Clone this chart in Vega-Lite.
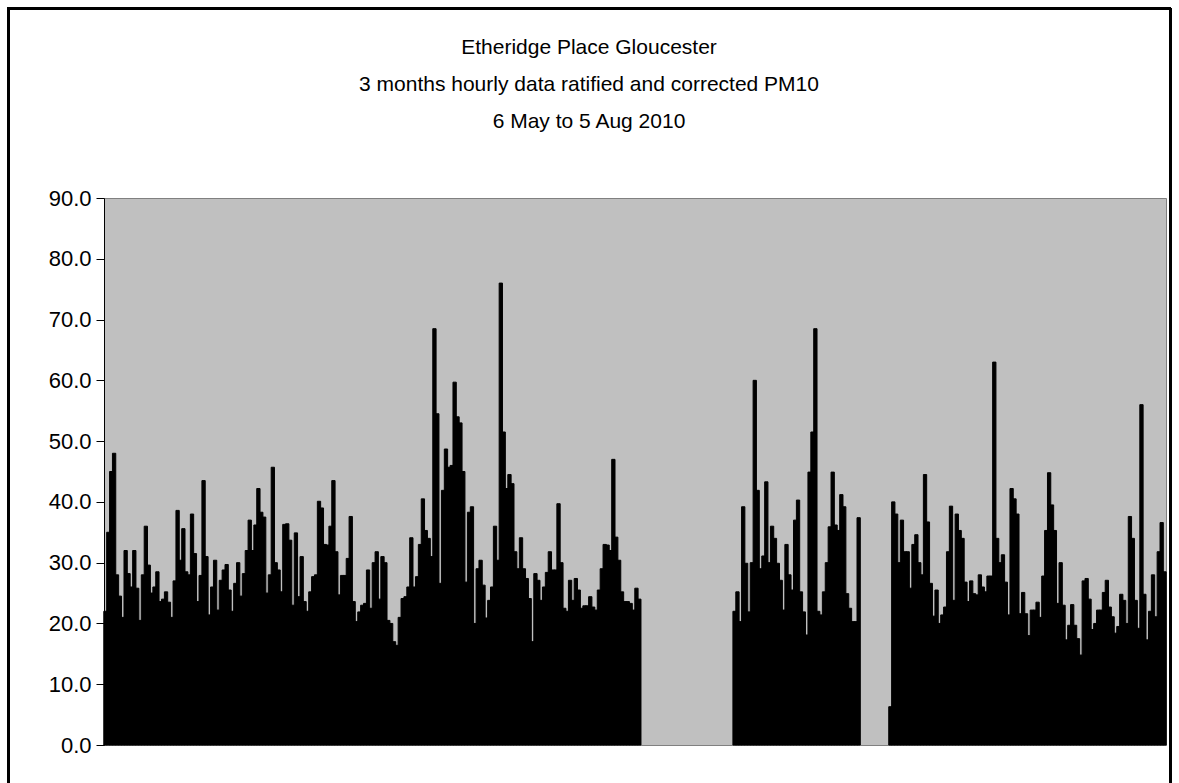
{
  "$schema": "https://vega.github.io/schema/vega-lite/v6.json",
  "autosize": {"type": "none"},
  "padding": {"left": 104, "top": 198, "right": 13, "bottom": 38},
  "width": 1062,
  "height": 547,
  "background": "white",
  "title": {
    "text": ["Etheridge Place Gloucester", "3 months hourly data ratified and corrected PM10", "6 May to 5 Aug 2010"],
    "font": "Liberation Sans",
    "fontSize": 21,
    "fontWeight": "normal",
    "color": "black",
    "lineHeight": 37,
    "anchor": "middle",
    "dx": -46,
    "offset": -125
  },
  "data": {
    "values": [
      {"p":0,"v":22},{"p":1,"v":35},{"p":2,"v":45},{"p":3,"v":48},{"p":4,"v":28},{"p":5,"v":24.5},{"p":6,"v":21},{"p":7,"v":32},{"p":8,"v":28.2},{"p":9,"v":26},
      {"p":10,"v":32},{"p":11,"v":25.8},{"p":12,"v":20.5},{"p":13,"v":28},{"p":14,"v":36},{"p":15,"v":29.6},{"p":16,"v":25},{"p":17,"v":26},{"p":18,"v":28.5},{"p":19,"v":23.6},
      {"p":20,"v":24},{"p":21,"v":25.2},{"p":22,"v":23.5},{"p":23,"v":21},{"p":24,"v":27},{"p":25,"v":38.6},{"p":26,"v":30.4},{"p":27,"v":35.6},{"p":28,"v":28.5},{"p":29,"v":28},
      {"p":30,"v":38},{"p":31,"v":31.5},{"p":32,"v":23.6},{"p":33,"v":27.9},{"p":34,"v":43.5},{"p":35,"v":31},{"p":36,"v":21.4},{"p":37,"v":26},{"p":38,"v":30.4},{"p":39,"v":22.2},
      {"p":40,"v":27.1},{"p":41,"v":28.8},{"p":42,"v":29.7},{"p":43,"v":25.5},{"p":44,"v":22},{"p":45,"v":26.6},{"p":46,"v":30},{"p":47,"v":24.5},{"p":48,"v":28.2},{"p":49,"v":32},
      {"p":50,"v":37},{"p":51,"v":32},{"p":52,"v":36.2},{"p":53,"v":42.2},{"p":54,"v":38.3},{"p":55,"v":37.5},{"p":56,"v":25},{"p":57,"v":28},{"p":58,"v":45.7},{"p":59,"v":30},
      {"p":60,"v":28.8},{"p":61,"v":25.2},{"p":62,"v":36.3},{"p":63,"v":36.4},{"p":64,"v":33.7},{"p":65,"v":23},{"p":66,"v":34.9},{"p":67,"v":24.4},{"p":68,"v":31},{"p":69,"v":23.6},
      {"p":70,"v":22},{"p":71,"v":25.2},{"p":72,"v":27.7},{"p":73,"v":28},{"p":74,"v":40.1},{"p":75,"v":39},{"p":76,"v":33},{"p":77,"v":32.9},{"p":78,"v":36},{"p":79,"v":43.5},
      {"p":80,"v":31.8},{"p":81,"v":24.7},{"p":82,"v":27.9},{"p":83,"v":27.9},{"p":84,"v":30.7},{"p":85,"v":37.6},{"p":86,"v":23.6},{"p":87,"v":20.3},{"p":88,"v":21.9},{"p":89,"v":23},
      {"p":90,"v":23.3},{"p":91,"v":28.8},{"p":92,"v":22.5},{"p":93,"v":30},{"p":94,"v":31.8},{"p":95,"v":24},{"p":96,"v":31},{"p":97,"v":30},{"p":98,"v":20.5},{"p":99,"v":20},
      {"p":100,"v":17},{"p":101,"v":16.4},{"p":102,"v":21},{"p":103,"v":24.1},{"p":104,"v":24.4},{"p":105,"v":26},{"p":106,"v":34.1},{"p":107,"v":26},{"p":108,"v":27.7},{"p":109,"v":33},
      {"p":110,"v":40.5},{"p":111,"v":35.3},{"p":112,"v":34},{"p":113,"v":31},{"p":114,"v":68.5},{"p":115,"v":54.5},{"p":116,"v":26.6},{"p":117,"v":41.9},{"p":118,"v":48.7},{"p":119,"v":45.7},
      {"p":120,"v":46},{"p":121,"v":59.7},{"p":122,"v":54},{"p":123,"v":53},{"p":124,"v":45},{"p":125,"v":26.8},{"p":126,"v":38.3},{"p":127,"v":39.2},{"p":128,"v":20},{"p":129,"v":29},
      {"p":130,"v":30.4},{"p":131,"v":26.3},{"p":132,"v":20.9},{"p":133,"v":23.8},{"p":134,"v":26},{"p":135,"v":36},{"p":136,"v":30.4},{"p":137,"v":76},{"p":138,"v":51.5},{"p":139,"v":42.2},
      {"p":140,"v":44.5},{"p":141,"v":43},{"p":142,"v":31.8},{"p":143,"v":29},{"p":144,"v":34.1},{"p":145,"v":29},{"p":146,"v":27.4},{"p":147,"v":24.1},{"p":148,"v":17},{"p":149,"v":28.2},
      {"p":150,"v":27.1},{"p":151,"v":23.8},{"p":152,"v":26},{"p":153,"v":28.4},{"p":154,"v":31.8},{"p":155,"v":28.8},{"p":156,"v":28.8},{"p":157,"v":39.7},{"p":158,"v":30},{"p":159,"v":22.5},
      {"p":160,"v":22},{"p":161,"v":27.1},{"p":162,"v":23.8},{"p":163,"v":27.4},{"p":164,"v":25.5},{"p":165,"v":22.5},{"p":166,"v":22.9},{"p":167,"v":22.9},{"p":168,"v":24.4},{"p":169,"v":22.7},
      {"p":170,"v":22.2},{"p":171,"v":25.5},{"p":172,"v":29},{"p":173,"v":33},{"p":174,"v":32.9},{"p":175,"v":32},{"p":176,"v":47},{"p":177,"v":34.2},{"p":178,"v":30.4},{"p":179,"v":25.2},
      {"p":180,"v":23.6},{"p":181,"v":23.6},{"p":182,"v":23.3},{"p":183,"v":22.2},{"p":184,"v":25.8},{"p":185,"v":24},
      {"p":218,"v":22},{"p":219,"v":25.2},
      {"p":220,"v":20.3},{"p":221,"v":39.2},{"p":222,"v":29.9},{"p":223,"v":21.9},{"p":224,"v":30},{"p":225,"v":60},{"p":226,"v":41.9},{"p":227,"v":29},{"p":228,"v":31.1},{"p":229,"v":43.3},
      {"p":230,"v":30},{"p":231,"v":36},{"p":232,"v":34},{"p":233,"v":29.9},{"p":234,"v":27.1},{"p":235,"v":22.2},{"p":236,"v":33},{"p":237,"v":28},{"p":238,"v":25.5},{"p":239,"v":37},
      {"p":240,"v":40.3},{"p":241,"v":25.2},{"p":242,"v":21.9},{"p":243,"v":18.1},{"p":244,"v":44.9},{"p":245,"v":51.5},{"p":246,"v":68.5},{"p":247,"v":22},{"p":248,"v":21.4},{"p":249,"v":25.2},
      {"p":250,"v":30},{"p":251,"v":35.9},{"p":252,"v":44.9},{"p":253,"v":36.2},{"p":254,"v":35.3},{"p":255,"v":41.2},{"p":256,"v":39.2},{"p":257,"v":24.9},{"p":258,"v":22.5},{"p":259,"v":20.3},
      {"p":260,"v":20.3},{"p":261,"v":37.4},
      {"p":272,"v":6.3},{"p":273,"v":40},{"p":274,"v":38},{"p":275,"v":30},{"p":276,"v":37},{"p":277,"v":31.8},{"p":278,"v":31.8},{"p":279,"v":25.8},
      {"p":280,"v":33},{"p":281,"v":34.6},{"p":282,"v":30},{"p":283,"v":28},{"p":284,"v":44.5},{"p":285,"v":36.7},{"p":286,"v":26.6},{"p":287,"v":21.2},{"p":288,"v":25.5},{"p":289,"v":20},
      {"p":290,"v":21.4},{"p":291,"v":22.7},{"p":292,"v":31.8},{"p":293,"v":39.3},{"p":294,"v":23.8},{"p":295,"v":38},{"p":296,"v":35.3},{"p":297,"v":34},{"p":298,"v":26.8},{"p":299,"v":23.6},
      {"p":300,"v":27},{"p":301,"v":24.9},{"p":302,"v":24.7},{"p":303,"v":28},{"p":304,"v":26},{"p":305,"v":25.2},{"p":306,"v":27.8},{"p":307,"v":27.8},{"p":308,"v":63},{"p":309,"v":34},
      {"p":310,"v":30},{"p":311,"v":31.3},{"p":312,"v":26.8},{"p":313,"v":21.4},{"p":314,"v":42.2},{"p":315,"v":40.5},{"p":316,"v":38},{"p":317,"v":21.6},{"p":318,"v":25.1},{"p":319,"v":21.6},
      {"p":320,"v":18},{"p":321,"v":22.2},{"p":322,"v":22.2},{"p":323,"v":23.5},{"p":324,"v":21},{"p":325,"v":27.8},{"p":326,"v":35.3},{"p":327,"v":44.8},{"p":328,"v":39.5},{"p":329,"v":35.3},
      {"p":330,"v":23.3},{"p":331,"v":30},{"p":332,"v":23},{"p":333,"v":17.3},{"p":334,"v":19.7},{"p":335,"v":23.1},{"p":336,"v":19.7},{"p":337,"v":17.5},{"p":338,"v":14.8},{"p":339,"v":27},
      {"p":340,"v":27.4},{"p":341,"v":24},{"p":342,"v":19},{"p":343,"v":20},{"p":344,"v":22.2},{"p":345,"v":22.2},{"p":346,"v":25.1},{"p":347,"v":27.1},{"p":348,"v":22.7},{"p":349,"v":21.1},
      {"p":350,"v":18.4},{"p":351,"v":19.5},{"p":352,"v":24.8},{"p":353,"v":23.8},{"p":354,"v":20},{"p":355,"v":37.6},{"p":356,"v":34},{"p":357,"v":23.8},{"p":358,"v":19.2},{"p":359,"v":56},
      {"p":360,"v":24.8},{"p":361,"v":17.3},{"p":362,"v":22},{"p":363,"v":28},{"p":364,"v":21.1},{"p":365,"v":31.8},{"p":366,"v":36.6},{"p":367,"v":28.5}
    ]
  },
  "layer": [
    {
      "mark": {"type": "rect", "fill": null, "fillOpacity": 0, "stroke": "black", "strokeWidth": 2},
      "encoding": {
        "x": {"datum": -33.6, "type": "quantitative"},
        "x2": {"datum": 368.9},
        "y": {"datum": -9, "type": "quantitative"},
        "y2": {"datum": 121.2}
      }
    },
    {
      "mark": {"type": "bar", "color": "black", "width": 3.3, "stroke": "black", "strokeWidth": 1},
      "encoding": {
        "x": {
          "field": "p",
          "type": "quantitative",
          "scale": {"domain": [-0.5, 367.5], "nice": false, "zero": false, "padding": 0},
          "axis": {"labels": false, "ticks": false, "grid": false, "title": null, "domainColor": "#808080", "domainWidth": 1}
        },
        "y": {
          "field": "v",
          "type": "quantitative",
          "stack": null,
          "scale": {"domain": [0, 90], "nice": false, "padding": 0},
          "axis": {
            "title": null,
            "values": [0, 10, 20, 30, 40, 50, 60, 70, 80, 90],
            "format": ".1f",
            "labelFont": "Liberation Sans",
            "labelFontSize": 22,
            "labelColor": "black",
            "labelPadding": 5,
            "tickColor": "black",
            "tickSize": 8,
            "domainColor": "black",
            "domainWidth": 1,
            "gridColor": {"condition": {"test": "datum.value >= 90", "value": "#808080"}, "value": "black"},
            "gridOpacity": 1,
            "gridWidth": 1
          }
        }
      }
    }
  ],
  "config": {
    "view": {"fill": "#C0C0C0", "stroke": "#808080", "strokeWidth": 1}
  }
}
